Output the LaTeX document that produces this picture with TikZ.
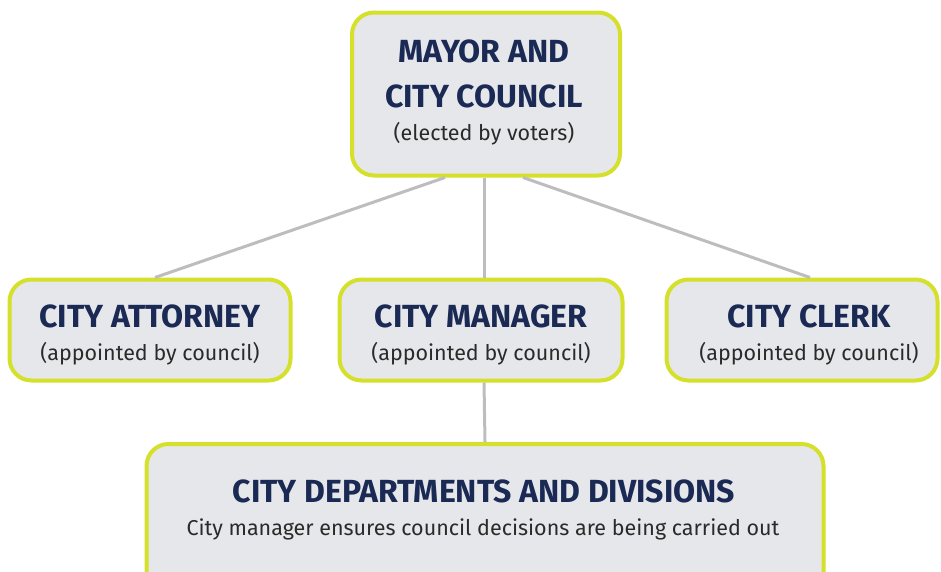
\documentclass[tikz,border=0pt]{standalone}
\usepackage{fontspec}
\setmainfont{Fira Sans}
\definecolor{boxfill}{HTML}{E6E7EA}
\definecolor{boxline}{HTML}{D5E02B}
\definecolor{headblue}{HTML}{1B2A55}
\definecolor{subgray}{HTML}{2A2A2A}
\definecolor{linkgray}{HTML}{BDBDBF}
\tikzset{
  office/.style={draw=boxline, line width=4pt, fill=boxfill, rounded corners=22pt,
    align=center, inner sep=0pt},
  head/.style={font=\fontsize{32}{38}\selectfont\bfseries, text=headblue},
  note/.style={font=\fontsize{21.5}{26}\selectfont, text=subgray},
  link/.style={draw=linkgray, line width=3pt}
}
\begin{document}
\begin{tikzpicture}[x=1pt, y=-1pt]
  \useasboundingbox (0,0) rectangle (941,571);
  \node[office, minimum width=268pt, minimum height=163pt] (mayor) at (486,94) {};
  \node[office, minimum width=281pt, minimum height=101pt] (attorney) at (150,330) {};
  \node[office, minimum width=283pt, minimum height=101pt] (manager) at (481,330) {};
  \node[office, minimum width=271pt, minimum height=101pt] (clerk) at (802,330) {};
  \node[office, minimum width=677pt, minimum height=150pt] (depts) at (485,519) {};
  % texts
  \node[head] (mayorA) at (484,51) {MAYOR AND};
  \node[head] (mayorB) at (484,96) {CITY COUNCIL};
  \node[note] (mayorC) at (484,134) {(elected by voters)};
  \node[head] (attA) at (150,316) {CITY ATTORNEY};
  \node[note] (attB) at (150,354) {(appointed by council)};
  \node[head] (manA) at (481,316) {CITY MANAGER};
  \node[note] (manB) at (481,354) {(appointed by council)};
  \node[head] (clkA) at (809,316) {CITY CLERK};
  \node[note] (clkB) at (809,354) {(appointed by council)};
  \node[head] (depA) at (484,491) {CITY DEPARTMENTS AND DIVISIONS};
  \node[note] (depB) at (483,529) {City manager ensures council decisions are being carried out};
  % links
  \draw[link] ([xshift=-41pt]mayor.south) -- ([xshift=5pt]attorney.north);
  \draw[link] ([xshift=-2pt]mayor.south) -- ([xshift=3pt]manager.north);
  \draw[link] ([xshift=37pt]mayor.south) -- ([xshift=8pt]clerk.north);
  \draw[link] ([xshift=3pt]manager.south) -- (depts.north);
\end{tikzpicture}
\end{document}
